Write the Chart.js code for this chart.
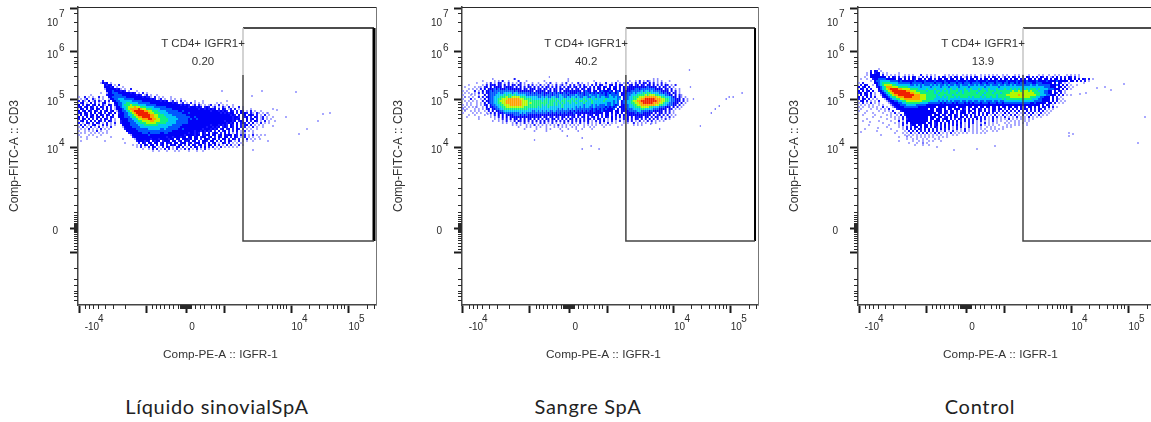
<!DOCTYPE html>
<html><head><meta charset="utf-8">
<script src="https://cdn.jsdelivr.net/npm/chart.js@4/dist/chart.umd.js"></script>
<style>
html,body{margin:0;padding:0;background:#fff;width:1151px;height:422px;overflow:hidden}
canvas{position:absolute;top:0}
.cap{position:absolute;top:394px;font:20px Lato,sans-serif;letter-spacing:.7px;color:#222;white-space:nowrap;transform:translateX(-50%)}
</style></head><body>
<canvas id="c0" width="385" height="370" style="left:0"></canvas>
<canvas id="c1" width="385" height="370" style="left:384px"></canvas>
<canvas id="c2" width="385" height="370" style="left:780px"></canvas>
<div class="cap" style="left:217px">Líquido sinovialSpA</div>
<div class="cap" style="left:588px">Sangre SpA</div>
<div class="cap" style="left:980px">Control</div>
<script>
// Axis channels (display units of the biexponential axes)
const xLabelTicks=[1,108,213,270];
const xLabels=["     -10","0","10","10"];
const xExponents=["4","","4","5"];
const xPlainMajor=[68,146];
const xMinor=[7,11,15,20,27,35,47,74,78,82,86,91,95,100,102,103,104,105,106,107,108,109,110,111,112,113,117,122,126,133,138,141,168,180,189,194,199,202,205,208,231,241,249,255,259,263,266,289,296];
const yLabelTicks=[297,253,206,158,77];
const yLabels=[["","","10"],"10","10","10","0"];
const yExponents=["7","6","5","4",""];
const yPlainMajor=[53];
const yMinor=[292,283,274,248,244,242,238,229,220,203,201,198,195,191,187,180,172,155,153,150,147,142,137,127,117,110,100,93,90,88,86,84,82,81,80,79,78,77,76,75,74,73,71,69,67,65,62,59,56,37,26,20,14,12,9,5];
const xTitle="Comp-PE-A :: IGFR-1    ";
const yTitle="Comp-FITC-A :: CD3";
const gateName="T CD4+ IGFR1+";
const gateValues=["0.20","40.2","13.9"];
const gateLeft=165, gateBottom=64, gateTop=277, gateBreak=230;
const gateRight=[296,295,296];
// Density: one character per 2-channel cell, "." empty, 1 sparse ... 9 peak
const densityTop=[225,227,237];
const densityA=[
"............2..",
"...........1323.1",
".............3233.1.2",
".............33323.1..1",
".............133333231.1..2",
"..............3334333232.1...1",
"...........1..133444333333232.1.2.1",
"......1.......233344443333333232.12.1..1",
"1..2.1.1..2.1..3344444443333333323221.2.1.1...1",
".1.12..21.1.1..133445554444433333333232.12.1..1.1..1",
"2.21.3.12.21.2.2.3344555555444443333333332323.12.1.2.1....1...1...........1",
".23.1.3.2.1.23.1..33445566555544444433333333333232.12.1.2.1.1.1......1.1",
"3.2.32.23.3.21.32.23445666766655554444433333333333323232.12.21.1.12.1.2.1.1..1",
"23.23.32.2.32.3.2.13345567778776665555444444333333333332333232.232.12.1.21.2.1..2.1",
".32.3.23.32.2.3.2.133345678888987766655554444443333333333333233232323.2.32.12.2.1.1...1",
"3.23.32.32.3.23.23.13344567899999887766655554444443343333333333333233323232.32.2.32.1.2.1..1",
"23.32.3.3.23.2.32.3.2334456789999998776665555444444433343333333333333332323233.2.3232.21.21.1.1",
".3.23.23.3.32.32.3..33344556789999998877666555544444443333333333333333333333232.3.23.232.2.1.2.1",
"3.2.3.32.23.3.2.32..3334445667889999887766665555544444443343333333333333333332332.323.2.32.12.1..1",
"2.32.3.2.3.2.32.2.1..333344556778889988776666555554444434334333333333333333332323.2.3.23.2.12.1.1",
".23.2.3.2.32.2.32.1..2333444556677778877766665555444444333333333333333333233323.232.3.2.32.1.2.1..1",
"2.1.32.2.32.1.2.1.2..233334445566677777666665555544444433333333333333333332323.3.232.2.3.1.2.1.1",
".2.2.1.23.1.2.2.1.1...33334444555666666655555554444433333333333333233323232.32.3.2.23.2.1.1.1",
"1.2.1.2.1.2.1.1.2.....1333344445555555555555544444433333333333332332323.232.32.3.2.2.1.2.1..1",
".1.1.2.1.1.2.1.1.......23333344444455555544544444433433333333323332323.23.23.2.32.2.1.1..1",
"1..1.1.1.2.1..1.........3333334444444444444444433333333333233232323.2.3.23.2.2.3.1.2.1.1",
".1.1..1.1.1.1.1..........233333344434444433443333333333233232.32.3.232.2.3.2.1.2.1.1...1",
"1....1.1...1..............13333333343333333333333333323333233.3233.33.23.3233.32.2.2.1.2.1.1.1",
".1..1....1......1..........233333333333333332332333233.33.33.233.23.2.32.33.2.32.1.2.1.1..1",
"....1.................1.....13333333233323333233.33.33323.33.2.332.33.2.33.2.32.2.1.2.1.1",
".1...........1...............2333233.3233.2333.33.23.323.33.2.332.33.2.3.2.32.1.2.1.1..1",
".......................1......2.32.33.33.23.323.33.233.23.233.32.3.23.1.32.2.1.1.1",
"...........................1.1.2.32.33.3.23.2.323.23.2.3.32.23.2.32.3.2.1.2.2.1.2.1",
".............................1.2.1.2.32.1.2.32.1.23.2.1.2.32.2.3.2.2.1.2.1.1.1.1",
"................................1..1.2.2.1.2.2.1.2.1.2.2.1.2.1.2.1..1.1",
".....................................1..1...1...1.1....1...1..1"];
const densityB=[
"...............1..........2..........................1..........................................1.1",
"..........1.....1.1.3..1....2...1........1...........1............1...........1.....1..1.2.1.21.1.1.1...1",
".......1....1.2.1.32.1.2.1.1.2.1...1..1...1.2..1..1.2..1..2.1..1...2.1..2..1.2.1.1.2.1.2.2.32.3.2.1.2.1",
"...1......1.2.323.32.3.2.32.32.1.2.2.1.2.1.2.1.2.12.1.2.2.12.2.1.2.2.32.1.23.2.32.1.23.23.32.33.3.2.2.32.1.2",
".1....1..1.23.3.3333.23332.3.3.2.32.3.2.2.32.2.3.2.2.32.23.2.32.2.3.32.32.3.23.3.3.233333333343333.3.32.2.1",
"...1.1.1.2.3.33343433343333333.32.333.23.32.3.32.33.23.3.23.32.33.2.33.3.33.33.3.3.333344344444443333.32.3.1.1",
"1.1...2.1.3.334344444444443433333333.33333.33.33.3.333333333.3433.33.3433343.343.33334444454554544443333.3.2.1",
".1.1..1.2.2.3344445445555455444444343433433343434334343333434344343434343434434.3334445455565665555443433.32.1",
"1...1.1.1..3.344455556566565555544444444434443444544434445444344544454443454444.33444555666676777665554433.3.21",
".1.1.1..2.2.33445556667667777666555555445454455445544545545445544554545544554544.344556667778888887766555433.31.1",
"1...2.1..1.3.3445566777888888776666555555565565655565556565556556556555565555545.34455667788999998887766544333.2.1",
".1.1.1.1..2.3344556777888888887776666666566566656566566565566565565555565555454.344556778899999999887766544333.2.1",
"..1.1..1.1.3.344556677888888887776766666666566565656556556555655565555555445454.34455667788999998887765544333.3.1",
"1.1.1..1.1.23.34455667778888887776666666565666565565555555555455545454445445434.3344556677888888877665544433.2.1",
".1.1.1.1..1.3.3344556677777777766666665655565555556555555454545544544444343434.33344555666777766555444333.3.2.1",
"1.1...1.1.1.23.33445566666666666655555555555555545455454544444444343434343334.3.33344455556655554443333.32.1.1",
".1..1.1.1..1.2.3.33445555555555555544545454544544444443434343434334333433333.33.333344445544443433333.3.2.1",
"1....1.1.1..1.2.3.33344444444545444444444443434343434333433333333333333.33.3.23.3.33333434433333.3.33.2.2.1",
"...1..1....1..1.2.3.3.33334443434333333333333333333333233.33.3.233.33.2.33.2.3.3.3.333333333333.3.23.2.2.1.1",
"..1.....1.....1.1.2.3.3.3333333333333233.33.23.32.33.3.23.3.23.3.23.3.2.32.3.2.3.2.3.3.3233.33.2.32.2.1.2.1",
"........1.......1.1.2.2.3.33.3.3.33.3.3.2.32.33.2.3.2.32.3.2.2.32.2.32.2.1.3.2.1.2.3.2.32.2.2.3.2.2.1.2.1",
"...............1..1.1.2.1.2.32.3.2.2.3.2.3.2.2.3.2.2.3.2.2.3.2.3.1.2.2.3.1.2.1.2.1.2.2.1.2.1.2.2.1.1.1",
"....................1.1..1.2.1.2.1.2.1.2.2.1.2.1.1.2.1.2.1.2.1.2.1.1.2.1.2.1.1...1.1..2.1.1.1..1.1",
".........................1.1.1..1.1.2.1.1.1.1.1.2.1.1.1.1.1..1.1.1.1..1.1.1.....1.....1.1.1",
"............................1...1.1..1.1..1...1.1.1.1..1.1...1..1.1....1......1...",
"...............................1.....1....1.1....1...1...1..1....1....",
"....................................1.....1.......1.......1............"];
const densityC=[
"..........1",
"......2.32.1",
"....1.3.233.1.1.....1",
"....1.33333.2.1.1.1.1..1.1.1...2..1.1.1....1.1.1.1..1.1.1.1..1.1.1.1.1..1.1...1.1.1..1....1.1..1..1.1...1.1.1.1",
"...1..33333333.2.32.2.12.2.32.1.2.2.2.1.2.32.12.32.2.12.2.32.1.2.2.32.2.12.2.32.2.1.32.2.2.32.2.12.3.2.2.32.2.1",
".1..1..233444433333.33.3.3.32.33.3.33.2.33.33.33.3.33.3.33.3.3.33.3.33.3.33.3.33.3.3.33.3.33.33.3.33.3.3.33.3.3.32.2.1",
"......1.3445555544443433333343333433334333343333343333433334333343333433334333343333433334333343333433333.33.3.2.2.1",
"1.2.....33456666555544444434444434444434443443444344344434444344344434443443443434434443344433333.3.32.1.1",
".2.32..1.34567777665555555445454544454545445454454454445445454454454445445445454445444544544444433343.3.2.1..1",
"3.23.3...234568887776666655555545555455554555455554555545555555455555545555555555555555555555444333.33.2.1.1",
".32.3.2...3456789999887777666655556555655556556556555655655565655655565556556565656565666565555444333.3.2.1",
"3.3.23.3..234567899999998877766666566656656565666656566566665666566656666666676676777676665554433.3.32.1",
"23.32.3.1..23456789999999988777666666656566665666566566666656665666566656666777777777777666554433.32.2.1",
".3.23.2.1..1334567889999999988877766666566656665666666666666665666666566667777778787777776655544333.3.2.1.1",
"3.2.3.2.2...233456678889999888877766666556565666565666656566656566566566666677777777776665544333.3.2.1",
"2.32.2.1.1...13345566778888888877766665555555655555555555555555555555555656666666666666555443333.3.21.1",
".23.2.1.1.2...1233445566777777776666555545454545444544544544544544454454455555555555555544443333.3.2.1.1",
"1.2.1.2.1.1....1233344556666666555544444434344434344434343444344434443443444444444444433433333.33.2.1.1",
".1.1.1.1..1.1...123334445555544444333333333333333333333333333333333333333333333333333333333.3.32.1",
"1.1..1.1.1..2.1..1233334444444333333333.3333.3333.3333.33.33.33.33.33.3.33.33.33.3.3.33.3.3.32.3.2.1",
".1....1..1.1.1.2...2333333333333333.33.333.3.33.333.32.3.33.32.3.2.33.33.2.3.3.2.3.32.3.2.32.2.1.1",
"1...1.....1..1.1.2...23333333333333333.333.32.33.3.233.32.3.32.3.2.32.2.2.3.2.2.3.2.3.2.2.3.2.1.1",
"...1...1....1...1.2.1..3333333333333333.33.32.33.2.333.2.32.3.2.32.2.2.1.3.2.1.2.1.2.2.3.1.2.1.1",
"..1.....1.....1.1..1.2.23333333333333.333.32.33.32.3.32.3.2.3.2.3.1.2.1.2.1.2.2.1.2.1.2.1.2.1.1",
".......1...1....1.1.1.2.33333333333.333.33.23.3.32.32.3.2.32.2.2.1.2.2.1.2.1.1.2.1.1.2.1.1.1",
"....1.........1...1.1.2.23333333333.33.33.233.3.2.32.3.2.2.3.2.2.1.2.1.1.1.2.1.1.1.1.1.1",
"..1.......1.....1...2.1.33333333333.3.333.2.33.2.3.2.3.2.2.1.2.1.1.2.1.1..1.1.1.1..1.1",
"............1.....1.1.2.3.33333333.33.23.3.2.3.2.2.3.1.2.2.1.1.2.1.1.1...1.1..1.1.1.1.",
".....1.........1....1.2.1.233.33.33.3.23.2.3.2.2.3.2.1.2.1.1.2.1.1.1..1...1.1.1.1...1",
"..............1.....1.1.2.2.33.3.33.2.32.2.3.2.1.2.2.1.2.1.1.1..1.1.1...1.1.1",
"...1............1.....1.2.3.2.32.3.3.2.2.3.2.2.1.2.1.2.1.1.1.1.1..1.1.1.1",
".........1.........1...1.2.2.3.2.2.3.2.2.1.2.1.2.1.1.2.1.1.1..1.1..1.1",
"..................1...1.1.2.1.2.2.2.1.2.2.1.1.2.1.1.1.1..1.1.1.1",
"...........1...........1.1.1.1.1.1.1.1.1.1..1..1.1",
"....................1...1.1..1.1.1.1.1..1.1.1",
"........................1..1.1..1.1...1.1..",
"....................1......1..1.1..1.1...1",
".........................1...1..1.1....",
"............................1...1..1"];
const strayAx=[184,218,252,245,240,229,221,208,199,195,190,195,190,182,175,144,174];
const strayAy=[214,213,192,191,184,176,171,188,195,196,192,179,164,166,155,214,209];
const strayBx=[229,230,233,282,273,269,266,259,255,251,240,88,73,121,130,138,121,106,1,3,14,26,10,3,17,199,190];
const strayBy=[235,218,206,212,208,208,206,199,196,192,179,228,165,156,159,156,167,169,197,195,198,191,211,208,218,176,181];
const strayCx=[226,226,228,222,239,247,253,266,287,280,211,215,211,96,119,137,79,65,49,20,12,3];
const strayCy=[226,222,212,211,217,218,215,221,188,162,172,171,169,155,156,159,158,162,169,177,183,173];
// Styles
const levelColors=["#7070ff","#1a1aff","#0000f8","#0058ff","#00c4f8","#10f080","#b4f800","#ffa000","#f02000"];
const levelWidths=[1.6,2,2,2,2,2,2,2,2];
const plotWidths=[298,296,298];
const ink="#2a2a2a";

function cells(rows,top){
  const byLevel=levelColors.map(()=>[]);
  rows.forEach((row,r)=>{[...row].forEach((ch,c)=>{
    const l=+ch; if(ch!=="."&&l>0) byLevel[l-1].push({x:2*c+1,y:top-2*r-1});
  });});
  return byLevel;
}
function minorAndExp(i){return {
  id:"flowAxes",
  afterDraw(chart){
    const {ctx,chartArea:a,scales:{x,y}}=chart;
    ctx.save();
    ctx.strokeStyle=ink;ctx.lineWidth=1;
    ctx.beginPath();
    ctx.moveTo(a.left,a.top+.5);ctx.lineTo(a.right,a.top+.5);
    ctx.stroke();
    ctx.strokeStyle="#777";
    ctx.beginPath();ctx.moveTo(a.right+.5,a.top);ctx.lineTo(a.right+.5,a.bottom);ctx.stroke();
    ctx.strokeStyle=ink;
    ctx.beginPath();
    xMinor.forEach(v=>{const p=Math.round(x.getPixelForValue(v))+.5;ctx.moveTo(p,a.bottom);ctx.lineTo(p,a.bottom+4);});
    yMinor.forEach(v=>{const p=Math.round(y.getPixelForValue(v))+.5;ctx.moveTo(a.left,p);ctx.lineTo(a.left-4,p);});
    ctx.stroke();
    ctx.fillStyle=ink;ctx.font="10px 'Liberation Sans'";ctx.textAlign="left";ctx.textBaseline="middle";
    xExponents.forEach((t,k)=>{if(t)ctx.fillText(t,x.getPixelForValue(xLabelTicks[k])+(k===0?19:11),a.bottom+14);});
    yExponents.forEach((t,k)=>{if(t)ctx.fillText(t,a.left-19,y.getPixelForValue(yLabelTicks[k])+(k===0?6:-4));});
    ctx.font="11.5px 'Liberation Sans'";ctx.textAlign="center";ctx.fillStyle="#333";
    ctx.fillText(gateName,x.getPixelForValue(125),y.getPixelForValue(261));
    ctx.fillText(gateValues[i],x.getPixelForValue(125),y.getPixelForValue(243));
    ctx.restore();
  }};
}
function line(pts,color,w){return {type:"scatter",showLine:true,data:pts,borderColor:color,borderWidth:w,pointRadius:0,fill:false,order:0,clip:false};}

[[densityA,strayAx,strayAy],[densityB,strayBx,strayBy],[densityC,strayCx,strayCy]].forEach(([rows,sx,sy],i)=>{
  const R=gateRight[i];
  const levels=cells(rows,densityTop[i]);
  const datasets=[
    line([{x:gateLeft,y:gateBreak},{x:gateLeft,y:gateTop}],"#c4c4c4",1.5),
    line([{x:gateLeft,y:gateTop},{x:R,y:gateTop}],"#111",1.5),
    line([{x:gateLeft,y:gateBreak},{x:gateLeft,y:gateBottom},{x:R,y:gateBottom}],"#444",1.5),
    line([{x:R,y:gateTop},{x:R,y:gateBottom}],"#000",i===0?3:2),
    {type:"scatter",data:sx.map((v,k)=>({x:v,y:sy[k]})),backgroundColor:"#4a4aff",borderWidth:0,pointRadius:0.9,pointStyle:"rect",order:20}
  ];
  levels.forEach((pts,l)=>datasets.push({type:"scatter",data:pts,backgroundColor:levelColors[l],borderWidth:0,pointStyle:"rect",pointRadius:levelWidths[l]*Math.SQRT1_2,order:20-l}));
  new Chart(document.getElementById("c"+i),{
    type:"scatter",
    data:{datasets},
    plugins:[minorAndExp(i)],
    options:{
      responsive:false,animation:false,events:[],devicePixelRatio:1,
      layout:{padding:{left:0,right:385-78-plotWidths[i],top:7,bottom:8}},
      plugins:{legend:{display:false},tooltip:{enabled:false}},
      scales:{
        x:{type:"linear",min:0,max:298,
          afterBuildTicks(s){s.ticks=[...xLabelTicks,...xPlainMajor].sort((a,b)=>a-b).map(v=>({value:v}));},
          afterFit(s){s.height=57;s.paddingLeft=0;s.paddingRight=0;},
          grid:{drawOnChartArea:false,tickLength:8,tickWidth:2,tickColor:"#1a1a1a"},
          border:{display:true,color:"#444",width:1.5},
          ticks:{autoSkip:false,maxRotation:0,minRotation:0,padding:8,labelOffset:6,color:ink,font:{family:"'Liberation Sans'",size:10},
            callback(v){const k=xLabelTicks.indexOf(v);return k<0?"":xLabels[k];}},
          title:{display:true,text:xTitle,color:"#333",font:{family:"'Liberation Sans'",size:11.8},padding:{top:0,bottom:0}}
        },
        y:{type:"linear",min:0,max:298,
          afterBuildTicks(s){s.ticks=[...yLabelTicks,...yPlainMajor].sort((a,b)=>a-b).map(v=>({value:v}));},
          afterFit(s){s.width=78;s.paddingTop=0;s.paddingBottom=0;},
          grid:{drawOnChartArea:false,tickLength:8,tickWidth:2,tickColor:"#1a1a1a"},
          border:{display:true,color:"#444",width:1.5},
          ticks:{autoSkip:false,padding:12,labelOffset:3,color:ink,font:{family:"'Liberation Sans'",size:10},
            callback(v){const k=yLabelTicks.indexOf(v);return k<0?"":yLabels[k];}},
          title:{display:true,text:yTitle,color:"#333",font:{family:"'Liberation Sans'",size:12},padding:{top:7,bottom:0}}
        }
      }
    }
  });
});
</script>
</body></html>
